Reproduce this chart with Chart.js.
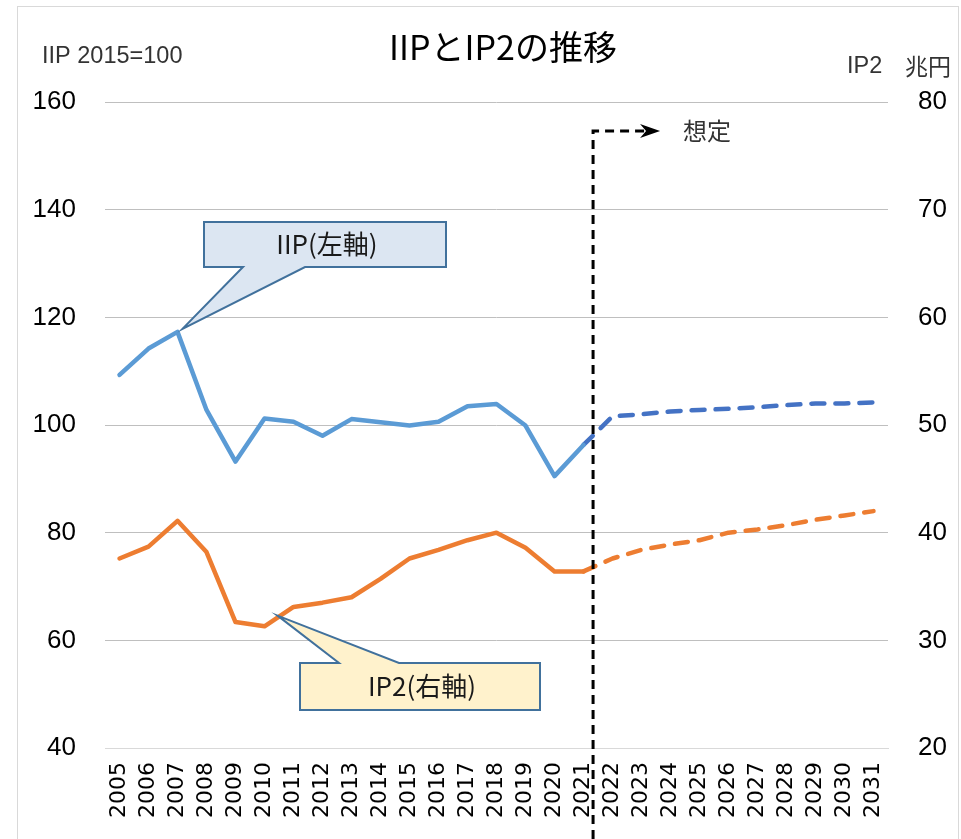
<!DOCTYPE html>
<html lang="ja">
<head>
  <meta charset="UTF-8" />
  <title>IIPとIP2の推移</title>
  <script src="https://cdn.jsdelivr.net/npm/chart.js"></script>
  <style>
    body {
      margin: 0;
      background: #ffffff;
    }
    #wrap {
      width: 961px;
      height: 839px;
    }
  </style>
</head>
<body>
  <div id="wrap">
    <canvas id="chart" width="961" height="839"></canvas>
  </div>

  <script>
    // data
    const years = ['2005', '2006', '2007', '2008', '2009', '2010', '2011', '2012', '2013', '2014',
      '2015', '2016', '2017', '2018', '2019', '2020', '2021', '2022', '2023', '2024',
      '2025', '2026', '2027', '2028', '2029', '2030', '2031'];

    // IIP (2015=100), left axis
    const iipActual = [109.3, 114.2, 117.3, 102.8, 93.2, 101.2, 100.6, 98.0, 101.1, 100.5,
      99.9, 100.6, 103.5, 103.9, 99.9, 90.5, 96.3];
    // 2021 onward (assumed)
    const iipOutlook = [96.3, 101.6, 102.0, 102.5, 102.8, 103.0, 103.3, 103.7, 104.0, 104.0, 104.2];

    // IP2 (兆円), right axis
    const ip2Actual = [37.6, 38.7, 41.1, 38.2, 31.7, 31.3, 33.1, 33.5, 34.0, 35.7,
      37.6, 38.4, 39.3, 40.0, 38.6, 36.4, 36.4];
    const ip2Outlook = [36.4, 37.6, 38.4, 38.9, 39.3, 40.0, 40.3, 40.7, 41.2, 41.6, 42.0];

    const leftTicks = [40, 60, 80, 100, 120, 140, 160];
    const rightTicks = [20, 30, 40, 50, 60, 70, 80];

    const outlookStart = years.indexOf('2021');

    function padActual(arr) {
      return years.map((y, i) => (i < arr.length ? arr[i] : null));
    }
    function padOutlook(arr) {
      return years.map((y, i) => (i >= outlookStart ? arr[i - outlookStart] : null));
    }

    const JP = '"Noto Sans CJK JP", "Noto Sans", sans-serif';

    // title, axis captions, frame
    const decorPlugin = {
      id: 'decor',
      beforeDraw(chart) {
        const ctx = chart.ctx;
        ctx.save();
        ctx.fillStyle = '#ffffff';
        ctx.fillRect(0, 0, chart.width, chart.height);
        ctx.strokeStyle = '#d9d9d9';
        ctx.lineWidth = 1;
        ctx.strokeRect(17.5, 6.5, 941, 850);

        ctx.fillStyle = '#000000';
        ctx.textBaseline = 'middle';
        ctx.textAlign = 'center';
        ctx.font = '34px ' + JP;
        ctx.fillText('IIPとIP2の推移', 503, 47);

        ctx.fillStyle = '#333333';
        ctx.font = '23.5px "Liberation Sans", sans-serif';
        ctx.textAlign = 'left';
        ctx.fillText('IIP 2015=100', 42, 57);
        ctx.fillText('IP2', 847, 67);
        ctx.textAlign = 'right';
        ctx.font = '23px ' + JP;
        ctx.fillText('兆円', 951, 66);
        ctx.restore();
      }
    };

    // vertical "想定" divider and the two callouts
    const notePlugin = {
      id: 'notes',
      afterDatasetsDraw(chart) {
        const ctx = chart.ctx;
        const x = chart.scales.x;
        const y = chart.scales.y;
        const y2 = chart.scales.y2;
        const area = chart.chartArea;

        const x21 = x.getPixelForValue(outlookStart);
        const x22 = x.getPixelForValue(outlookStart + 1);
        const divX = x21 + (x22 - x21) * 0.33;
        const topY = area.top + 29;

        ctx.save();
        ctx.strokeStyle = '#000000';
        ctx.lineWidth = 3;
        ctx.setLineDash([9, 6]);
        ctx.beginPath();
        ctx.moveTo(divX, chart.height);
        ctx.lineTo(divX, topY);
        ctx.lineTo(divX + 56, topY);
        ctx.stroke();
        ctx.setLineDash([]);
        // arrow head
        ctx.fillStyle = '#000000';
        ctx.beginPath();
        ctx.moveTo(divX + 67, topY);
        ctx.lineTo(divX + 47, topY - 7);
        ctx.lineTo(divX + 53, topY);
        ctx.lineTo(divX + 47, topY + 7);
        ctx.closePath();
        ctx.fill();

        ctx.fillStyle = '#333333';
        ctx.font = '24px ' + JP;
        ctx.textAlign = 'left';
        ctx.textBaseline = 'middle';
        ctx.fillText('想定', divX + 90, topY);
        ctx.restore();

        // IIP callout, pointing at 2007
        const tip1 = { x: x.getPixelForValue(2) + 5, y: y.getPixelForValue(iipActual[2]) - 3 };
        drawCallout(ctx, { l: 204, t: 222, r: 446, b: 267 }, 'bottom', 243, 305, tip1,
          '#dce6f2', 'IIP(左軸)');

        // IP2 callout, pointing between 2010 and 2011
        const xa = x.getPixelForValue(5), xb = x.getPixelForValue(6);
        const ya = y2.getPixelForValue(ip2Actual[5]), yb = y2.getPixelForValue(ip2Actual[6]);
        const tip2 = { x: xa + (xb - xa) * 0.45, y: ya + (yb - ya) * 0.45 - 2 };
        drawCallout(ctx, { l: 300, t: 663, r: 540, b: 710 }, 'top', 339, 399, tip2,
          '#fff2cc', 'IP2(右軸)');
      }
    };

    function drawCallout(ctx, box, side, bx1, bx2, tip, fill, text) {
      ctx.save();
      ctx.beginPath();
      if (side === 'bottom') {
        ctx.moveTo(box.l, box.t);
        ctx.lineTo(box.r, box.t);
        ctx.lineTo(box.r, box.b);
        ctx.lineTo(bx2, box.b);
        ctx.lineTo(tip.x, tip.y);
        ctx.lineTo(bx1, box.b);
        ctx.lineTo(box.l, box.b);
      } else {
        ctx.moveTo(box.l, box.t);
        ctx.lineTo(bx1, box.t);
        ctx.lineTo(tip.x, tip.y);
        ctx.lineTo(bx2, box.t);
        ctx.lineTo(box.r, box.t);
        ctx.lineTo(box.r, box.b);
        ctx.lineTo(box.l, box.b);
      }
      ctx.closePath();
      ctx.fillStyle = fill;
      ctx.fill();
      ctx.strokeStyle = '#41719c';
      ctx.lineWidth = 2;
      ctx.stroke();

      ctx.fillStyle = '#1a1a1a';
      ctx.font = '26px ' + JP;
      ctx.textAlign = 'center';
      ctx.textBaseline = 'middle';
      ctx.fillText(text, (box.l + box.r) / 2 + 2, (box.t + box.b) / 2);
      ctx.restore();
    }

    const tickFont = { family: '"Liberation Sans", Arial, sans-serif', size: 26 };

    new Chart(document.getElementById('chart'), {
      type: 'line',
      data: {
        labels: years,
        datasets: [
          {
            label: 'IIP',
            data: padActual(iipActual),
            borderColor: '#5b9bd5',
            borderWidth: 4.5,
            yAxisID: 'y'
          },
          {
            label: 'IIP 想定',
            data: padOutlook(iipOutlook),
            borderColor: '#4472c4',
            borderWidth: 4.5,
            borderDash: [13, 11],
            yAxisID: 'y'
          },
          {
            label: 'IP2',
            data: padActual(ip2Actual),
            borderColor: '#ed7d31',
            borderWidth: 4.5,
            yAxisID: 'y2'
          },
          {
            label: 'IP2 想定',
            data: padOutlook(ip2Outlook),
            borderColor: '#ed7d31',
            borderWidth: 4.5,
            borderDash: [13, 11],
            yAxisID: 'y2'
          }
        ]
      },
      options: {
        responsive: false,
        animation: false,
        spanGaps: false,
        elements: {
          point: { radius: 0 },
          line: { tension: 0, borderCapStyle: 'round', borderJoinStyle: 'round' }
        },
        layout: {
          padding: { top: 102, left: 0, right: 0, bottom: 0 }
        },
        plugins: {
          legend: { display: false },
          tooltip: { enabled: false },
          title: { display: false }
        },
        scales: {
          x: {
            offset: true,
            grid: { display: false, drawTicks: false },
            border: { display: true, color: '#d9d9d9', width: 1 },
            ticks: {
              autoSkip: false,
              maxRotation: 90,
              minRotation: 90,
              padding: 14,
              color: '#000000',
              font: { family: '"DejaVu Sans", sans-serif', size: 22 }
            },
            afterFit(scale) { scale.height = 91; }
          },
          y: {
            position: 'left',
            min: 40,
            max: 160,
            afterBuildTicks(scale) { scale.ticks = leftTicks.map(v => ({ value: v })); },
            grid: { color: '#bfbfbf', lineWidth: 1, drawTicks: false },
            border: { display: false },
            ticks: { padding: 29, color: '#000000', font: tickFont },
            afterFit(scale) { scale.width = 105; }
          },
          y2: {
            position: 'right',
            min: 20,
            max: 80,
            afterBuildTicks(scale) { scale.ticks = rightTicks.map(v => ({ value: v })); },
            grid: { display: false, drawTicks: false },
            border: { display: false },
            ticks: { padding: 30, color: '#000000', font: tickFont },
            afterFit(scale) { scale.width = 73; }
          }
        }
      },
      plugins: [decorPlugin, notePlugin]
    });
  </script>
</body>
</html>
